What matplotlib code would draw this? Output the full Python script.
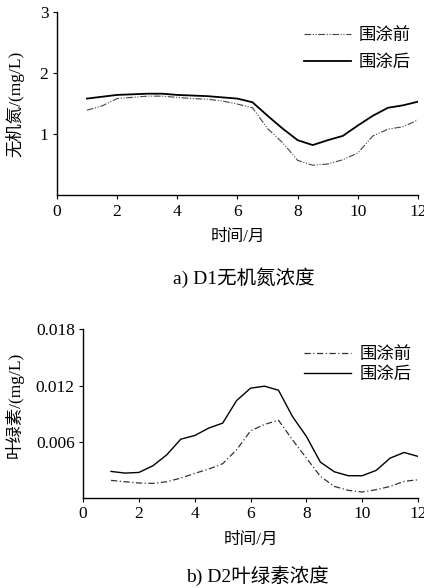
import matplotlib
matplotlib.use("Agg")
import matplotlib.pyplot as plt

plt.rcParams['font.family'] = ['Liberation Serif', 'Noto Sans CJK SC']
plt.rcParams['axes.unicode_minus'] = False

# === data ===
months = [1, 1.5, 2, 2.5, 3, 3.5, 4, 4.5, 5, 5.5, 6, 6.5,
          7, 7.5, 8, 8.5, 9, 9.5, 10, 10.5, 11, 11.5, 12]

# D1 inorganic nitrogen (mg/L)
n_before = [1.39, 1.46, 1.58, 1.60, 1.62, 1.62, 1.60, 1.58, 1.57, 1.54, 1.49, 1.43,
            1.09, 0.86, 0.57, 0.49, 0.51, 0.58, 0.69, 0.97, 1.08, 1.12, 1.23]
n_after = [1.58, 1.61, 1.64, 1.65, 1.66, 1.66, 1.64, 1.63, 1.62, 1.60, 1.58, 1.52,
           1.30, 1.09, 0.90, 0.82, 0.90, 0.97, 1.14, 1.30, 1.43, 1.47, 1.53]

# D2 chlorophyll (mg/L)
c_before = [0.00188, 0.00174, 0.00160, 0.00156, 0.00174, 0.00213, 0.00263, 0.00309,
            0.00366, 0.00515, 0.00717, 0.00785, 0.00830, 0.00621, 0.00426, 0.00231,
            0.00124, 0.00082, 0.00064, 0.00089, 0.00124, 0.00178, 0.00195]
c_after = [0.00284, 0.00266, 0.00273, 0.00344, 0.00462, 0.00628, 0.00667, 0.00746,
           0.00799, 0.01040, 0.01172, 0.01193, 0.01150, 0.00870, 0.00657, 0.00383,
           0.00280, 0.00238, 0.00238, 0.00295, 0.00426, 0.00486, 0.00444]

labels = ['围涂前', '围涂后']

fig = plt.figure(figsize=(4.24, 5.88), dpi=100)


def style_axes(ax, spacing, top):
    for s in ['top', 'right']:
        ax.spines[s].set_visible(False)
    for s in ['left', 'bottom']:
        ax.spines[s].set_linewidth(1.0)
    ax.tick_params(direction='out', length=3, width=0.8, labelsize=12.5, pad=3)
    ax.set_xlim(0, 12)
    ax.set_xticks(range(0, 13, 2))
    ax.set_xlabel('时间/月', fontsize=12, labelpad=7)
    ax.legend(frameon=False, loc='upper right', bbox_to_anchor=(0.99, top),
              fontsize=12.5, handlelength=2.7, handletextpad=0.45,
              labelspacing=spacing, borderaxespad=0, borderpad=0.2)


# === a) D1 ===
ax1 = fig.add_axes([0.134, 0.668, 0.852, 0.312])
ax1.plot(months, n_before, color='#444444', lw=0.8, ls=(0, (6, 1.5, 1, 1.5, 1, 1.5)), label=labels[0])
ax1.plot(months, n_after, color='black', lw=1.3, label=labels[1])
ax1.set_ylim(0, 3)
ax1.set_yticks([1, 2, 3])
ax1.set_ylabel('无机氮/(mg/L)', fontsize=12.5)
ax1.yaxis.set_label_coords(-0.091, 0.5)
style_axes(ax1, 0.62, 0.93)
fig.text(0.575, 0.528, 'a) D1无机氮浓度', ha='center', va='center', fontsize=14)

# === b) D2 ===
ax2 = fig.add_axes([0.196, 0.153, 0.790, 0.287])
ax2.plot(months, c_before, color='#333333', lw=0.9, ls=(0, (5, 2, 1, 2)), label=labels[0])
ax2.plot(months, c_after, color='black', lw=1.0, label=labels[1])
ax2.set_ylim(0, 0.018)
ax2.set_yticks([0.006, 0.012, 0.018])
ax2.set_yticklabels(['0.006', '0.012', '0.018'])
ax2.set_ylabel('叶绿素/(mg/L)', fontsize=12.5)
ax2.yaxis.set_label_coords(-0.176, 0.55)
style_axes(ax2, 0.25, 0.917)
fig.text(0.608, 0.020, 'b) D2叶绿素浓度', ha='center', va='center', fontsize=14)

fig.savefig('out.png', dpi=100)
